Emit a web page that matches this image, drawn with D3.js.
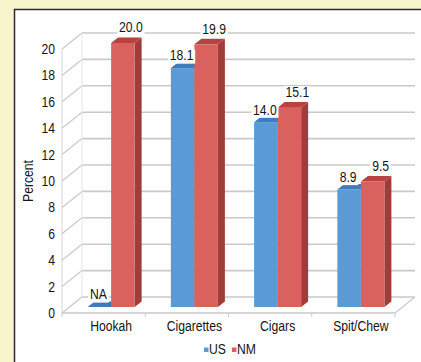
<!DOCTYPE html>
<html>
<head>
<meta charset="utf-8">
<script src="https://cdn.jsdelivr.net/npm/d3@7"></script>
<style>
  body { margin: 0; background: #f6f5cb; }
  svg { display: block; }
  text { font-family: "Liberation Sans", Arial, sans-serif; fill: #151515; }
</style>
</head>
<body>
<div id="chart"></div>
<script>
const categories = ["Hookah", "Cigarettes", "Cigars", "Spit/Chew"];
const seriesNames = ["US", "NM"];
const usValues = [null, 18.1, 14.0, 8.9];   // null = NA
const nmValues = [20.0, 19.9, 15.1, 9.5];
const yTicks = [0, 2, 4, 6, 8, 10, 12, 14, 16, 18, 20];

let w = 421;
let h = 362;
let fontSize = 14;
let squeeze = 0.87;   // the original uses a condensed face

// front plane of the 3D box
let plotLeft = 62, plotRight = 395, plotBottom = 313, plotTop = 49;
// wall depth and bar placement inside it
let wallDx = 20, wallDy = -16;
let barShiftX = 7.5, barShiftY = -6;
let barDx = 7, barDy = -5.6;

const colors = {
    US: { front: "#5b9bd5", top: "#3f7cbc", side: "#3a6fa6" },
    NM: { front: "#d9625f", top: "#b7423f", side: "#9e3d3a" }
};

let svg = d3.select("#chart")
    .append("svg")
    .attr("width", w)
    .attr("height", h)
    .attr("viewBox", "0 0 " + w + " " + h);

// condensed text placed at (px, py)
function label(parent, px, py, str, anchor, rotate) {
    return parent.append("g")
        .attr("transform", "translate(" + px + "," + py + ")" + (rotate ? " rotate(" + rotate + ")" : "") + " scale(" + squeeze + ",1)")
        .append("text")
        .attr("text-anchor", anchor || "middle")
        .attr("font-size", fontSize)
        .text(str);
}

// white panel with dark frame
svg.append("rect")
    .attr("x", 14.5).attr("y", 9.5)
    .attr("width", w).attr("height", h)
    .attr("fill", "#fff")
    .attr("stroke", "#2b2b2b")
    .attr("stroke-width", 1.5);

const y = d3.scaleLinear().domain([0, 20]).range([plotBottom, plotTop]);

const x = d3.scaleBand()
    .domain(categories)
    .range([plotLeft, plotRight])
    .paddingInner(0.435)
    .paddingOuter(0.2175);

const x1 = d3.scaleBand()
    .domain(seriesNames)
    .range([0, x.bandwidth()]);

const grid = svg.append("g").attr("class", "grid");

// back wall gridlines
grid.selectAll("line.back")
    .data(yTicks)
    .enter()
    .append("line")
    .attr("class", "back")
    .attr("x1", plotLeft + wallDx)
    .attr("x2", plotRight + wallDx)
    .attr("y1", d => y(d) + wallDy)
    .attr("y2", d => y(d) + wallDy)
    .attr("stroke", "#c9c9c9")
    .attr("stroke-width", 1.6);

// left wall diagonals
grid.selectAll("line.side")
    .data(yTicks)
    .enter()
    .append("line")
    .attr("class", "side")
    .attr("x1", plotLeft)
    .attr("x2", plotLeft + wallDx)
    .attr("y1", d => y(d))
    .attr("y2", d => y(d) + wallDy)
    .attr("stroke", "#c9c9c9")
    .attr("stroke-width", 1.3);

// front axis line and floor edges
grid.append("line")
    .attr("x1", plotLeft).attr("x2", plotLeft)
    .attr("y1", y(20)).attr("y2", y(0))
    .attr("stroke", "#d6d6d6");
grid.append("line")
    .attr("x1", plotLeft + wallDx).attr("x2", plotLeft + wallDx)
    .attr("y1", y(20) + wallDy).attr("y2", y(0) + wallDy)
    .attr("stroke", "#e6e6e6");
grid.append("line")
    .attr("x1", plotLeft).attr("x2", plotRight)
    .attr("y1", plotBottom).attr("y2", plotBottom)
    .attr("stroke", "#c9c9c9").attr("stroke-width", 1.3);
grid.append("line")
    .attr("x1", plotRight).attr("x2", plotRight + wallDx)
    .attr("y1", plotBottom).attr("y2", plotBottom + wallDy)
    .attr("stroke", "#c9c9c9").attr("stroke-width", 1.3);

// category ticks on the floor edge
let tickXs = categories.map(c => x(c) - x.step() * 0.2175).concat([plotRight]);
grid.selectAll("line.ctick")
    .data(tickXs)
    .enter()
    .append("line")
    .attr("class", "ctick")
    .attr("x1", d => d).attr("x2", d => d)
    .attr("y1", plotBottom).attr("y2", plotBottom + 4)
    .attr("stroke", "#cdcdcd");

// y tick labels
const yAxisG = svg.append("g");
yTicks.forEach(d => {
    label(yAxisG, plotLeft - 7, y(d), d, "end").attr("dy", "0.36em");
});

label(svg, 33, (plotTop + plotBottom) / 2, "Percent", "middle", -90);

// category labels
const catG = svg.append("g");
categories.forEach(c => {
    label(catG, x(c) + x.bandwidth() / 2 + barShiftX, plotBottom + 18, c, "middle");
});

// bars
const barData = [];
categories.forEach((c, i) => {
    barData.push({ cat: c, series: "US", value: usValues[i] });
    barData.push({ cat: c, series: "NM", value: nmValues[i] });
});

const bars = svg.append("g").attr("class", "bars");

barData.forEach(d => {
    let v = d.value == null ? 0 : d.value;
    let x0 = x(d.cat) + x1(d.series) + barShiftX;
    let bw = x1.bandwidth();
    let yT = y(v) + barShiftY;
    let yB = y(0) + barShiftY;
    let c = colors[d.series];
    let g = bars.append("g");

    g.append("polygon")
        .attr("points", [[x0 + bw, yT], [x0 + bw + barDx, yT + barDy], [x0 + bw + barDx, yB + barDy], [x0 + bw, yB]].join(" "))
        .attr("fill", c.side);
    g.append("rect")
        .attr("x", x0).attr("y", yT)
        .attr("width", bw).attr("height", yB - yT)
        .attr("fill", c.front);
    g.append("polygon")
        .attr("points", [[x0, yT], [x0 + barDx, yT + barDy], [x0 + bw + barDx, yT + barDy], [x0 + bw, yT]].join(" "))
        .attr("fill", c.top);

    d.labelX = x0 + bw / 2 + (d.series === "NM" ? 8 : -1);
    d.labelY = yT + barDy + (d.series === "NM" ? -5 : -2);
});

// value labels with white boxes
const labels = svg.append("g").attr("class", "labels");
barData.forEach(d => {
    let t = label(labels, d.labelX, d.labelY, d.value == null ? "NA" : d3.format(".1f")(d.value), "middle");
    let bb = t.node().getBBox();
    d3.select(t.node().parentNode).insert("rect", "text")
        .attr("x", bb.x - 2).attr("y", bb.y + 2)
        .attr("width", bb.width + 4).attr("height", bb.height - 2)
        .attr("fill", "#fff");
});

// legend
const legend = svg.append("g").attr("transform", "translate(204,349)");
let lx = 0;
seriesNames.forEach(s => {
    legend.append("rect")
        .attr("x", lx).attr("y", -1.5)
        .attr("width", 4.5).attr("height", 4.5)
        .attr("fill", colors[s].front);
    let t = label(legend, lx + 5, 0, s, "start").attr("dy", "0.36em");
    lx += 5 + t.node().getComputedTextLength() * squeeze + 6;
});
</script>
</body>
</html>
